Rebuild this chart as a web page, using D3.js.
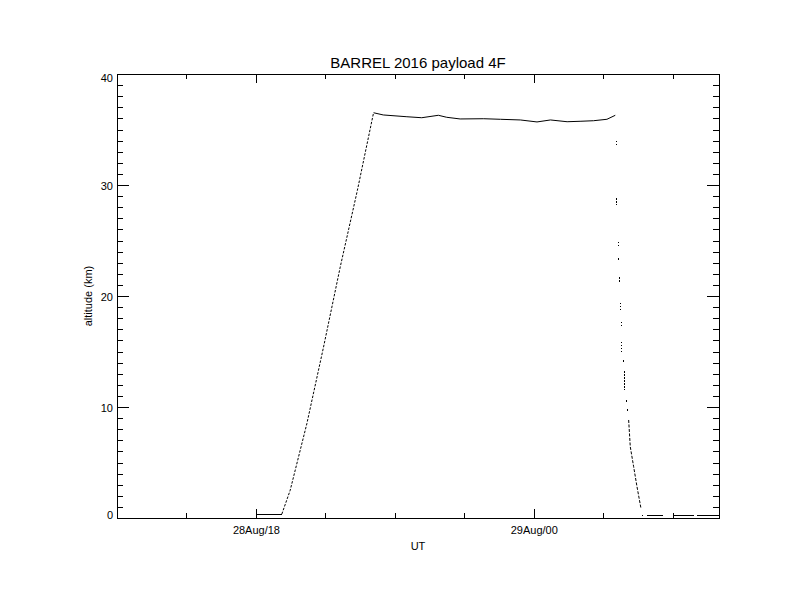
<!DOCTYPE html>
<html lang="en">
	<head>
		<meta charset="utf-8">
		<title>BARREL 2016 payload 4F</title>
		<script src="https://d3js.org/d3.v7.min.js"></script>
		<style type="text/css">
			body, html {
				margin: 0;
				padding: 0;
				background: #ffffff;
			}
			text {
				font-family: "Liberation Sans", Arial, sans-serif;
				fill: #000000;
			}
		</style>
	</head>
	<body>
		<div id="chart"></div>
		<script type="text/javascript">

		// times are hours UT after 2016-08-28 00:00, altitudes in km
		var preLaunch = [[18.02, 0.36], [18.56, 0.36]]
		var ascent = [[18.56, 0.36], [18.74, 2.5], [19.10, 8.5], [19.46, 15.4], [19.82, 22.6], [20.19, 29.5], [20.54, 36.5]]
		var flight = [[20.54, 36.51], [20.75, 36.31], [21.26, 36.15], [21.58, 36.06], [21.94, 36.28], [22.12, 36.10],
			[22.41, 35.95], [22.92, 35.97], [23.28, 35.92], [23.71, 35.86], [24.07, 35.68], [24.36, 35.86],
			[24.72, 35.70], [25.00, 35.74], [25.29, 35.79], [25.58, 35.92], [25.76, 36.28]]
		// sparse samples during the fall, one short run each
		var fallBursts = [[25.782, 34.0, 33.4], [25.797, 28.8, 28.2], [25.833, 24.9, 24.3], [25.833, 23.4, 23.2],
			[25.855, 21.7, 21.3], [25.869, 19.4, 18.6], [25.884, 17.7, 17.1], [25.905, 15.9, 14.9],
			[25.927, 14.2, 14.0], [25.963, 13.2, 11.5], [25.998, 10.6, 10.4], [26.027, 9.8, 9.6]]
		var fall = [[26.049, 8.83], [26.084, 6.42], [26.157, 4.62], [26.229, 2.82], [26.315, 0.87]]
		var landed = [[[26.337, 0.27], [26.36, 0.27]], [[26.445, 0.27], [26.782, 0.27]], [[27.007, 0.27], [27.453, 0.27]], [[27.526, 0.27], [28.0, 0.27]]]

		var yMajor = [0, 10, 20, 30, 40]
		var yMinor = d3.range(0, 41, 1)
		var xMajor = [18, 24]
		var xMinor = [16.5, 18, 19.5, 21, 22.5, 24, 25.5, 27]

		var day0 = Date.UTC(2016, 7, 28)
		var toDate = h => new Date(day0 + h * 3600e3)

		var svg = d3.select("#chart").append("svg")
			.attr("width", 792)
			.attr("height", 612)

		var margin = {top: 74, right: 73, bottom: 94, left: 117}
		var w = 792 - margin.left - margin.right
		var h = 612 - margin.top - margin.bottom

		var xScale = d3.scaleUtc()
			.domain([toDate(15), toDate(28)])
			.range([0, w])
		var yScale = d3.scaleLinear()
			.domain([0, 40])
			.range([h, 0])

		var g = svg.append("g")
			.attr("transform", "translate(" + margin.left + "," + margin.top + ")")

		// frame
		g.append("rect")
			.attr("x", 0)
			.attr("y", 0)
			.attr("width", w)
			.attr("height", h)
			.attr("fill", "none")
			.attr("stroke", "#000")
			.attr("shape-rendering", "crispEdges")

		var fmt = d3.utcFormat("%d%b/%H")

		var addAxis = function (axis, transform) {
			var a = g.append("g")
				.attr("transform", transform)
				.call(axis)
			a.select(".domain").remove()
			a.selectAll("line").attr("shape-rendering", "crispEdges")
			a.selectAll("text").style("font-size", "11px").style("font-family", '"Liberation Sans", Arial, sans-serif')
			return a
		}

		// x axes
		addAxis(d3.axisBottom(xScale).tickValues(xMinor.map(toDate)).tickSizeInner(-5).tickSizeOuter(0).tickFormat(""), "translate(0," + h + ")")
		addAxis(d3.axisBottom(xScale).tickValues(xMajor.map(toDate)).tickSizeInner(-9).tickSizeOuter(0).tickPadding(8).tickFormat(fmt), "translate(0," + h + ")")
		addAxis(d3.axisTop(xScale).tickValues(xMinor.map(toDate)).tickSizeInner(-5).tickSizeOuter(0).tickFormat(""), "translate(0,0)")
		addAxis(d3.axisTop(xScale).tickValues(xMajor.map(toDate)).tickSizeInner(-9).tickSizeOuter(0).tickFormat(""), "translate(0,0)")

		// y axes
		addAxis(d3.axisLeft(yScale).tickValues(yMinor).tickSizeInner(-6).tickSizeOuter(0).tickFormat(""), "translate(0,0)")
		var yl = addAxis(d3.axisLeft(yScale).tickValues(yMajor).tickSizeInner(-12).tickSizeOuter(0).tickPadding(4).tickFormat(d3.format("d")), "translate(0,0)")
		yl.selectAll(".tick text")
			.attr("dy", null)
			.attr("dominant-baseline", "central")
			.attr("y", d => {
				var p = yScale(d)
				return Math.min(Math.max(p, 3), h - 4) - p
			})
		addAxis(d3.axisRight(yScale).tickValues(yMinor).tickSizeInner(-6).tickSizeOuter(0).tickFormat(""), "translate(" + w + ",0)")
		addAxis(d3.axisRight(yScale).tickValues(yMajor).tickSizeInner(-12).tickSizeOuter(0).tickFormat(""), "translate(" + w + ",0)")

		var line = d3.line()
			.x(d => xScale(toDate(d[0])))
			.y(d => yScale(d[1]))

		var drawPath = function (data, dash, crisp) {
			g.append("path")
				.attr("d", line(data))
				.attr("fill", "none")
				.attr("stroke", "#000")
				.attr("stroke-width", 1)
				.attr("stroke-dasharray", dash)
				.attr("shape-rendering", crisp ? "crispEdges" : null)
		}

		drawPath(preLaunch, null, true)
		drawPath(ascent, "2.5,1.5", false)
		drawPath(flight, null, false)
		fallBursts.forEach(b => drawPath([[b[0], b[1]], [b[0], b[2]]], "1.5,1.5", true))
		drawPath(fall, "3,1.5", false)
		landed.forEach(s => drawPath(s, null, true))

		// titles
		svg.append("text")
			.text("BARREL 2016 payload 4F")
			.attr("text-anchor", "middle")
			.attr("x", margin.left + w / 2)
			.attr("y", 68)
			.style("font-size", "15px")

		svg.append("text")
			.text("UT")
			.attr("text-anchor", "middle")
			.attr("x", margin.left + w / 2)
			.attr("y", 550)
			.style("font-size", "11px")

		svg.append("text")
			.text("altitude (km)")
			.attr("text-anchor", "middle")
			.attr("transform", "translate(92," + (margin.top + h / 2) + ") rotate(-90)")
			.style("font-size", "11px")

		</script>
	</body>
</html>
